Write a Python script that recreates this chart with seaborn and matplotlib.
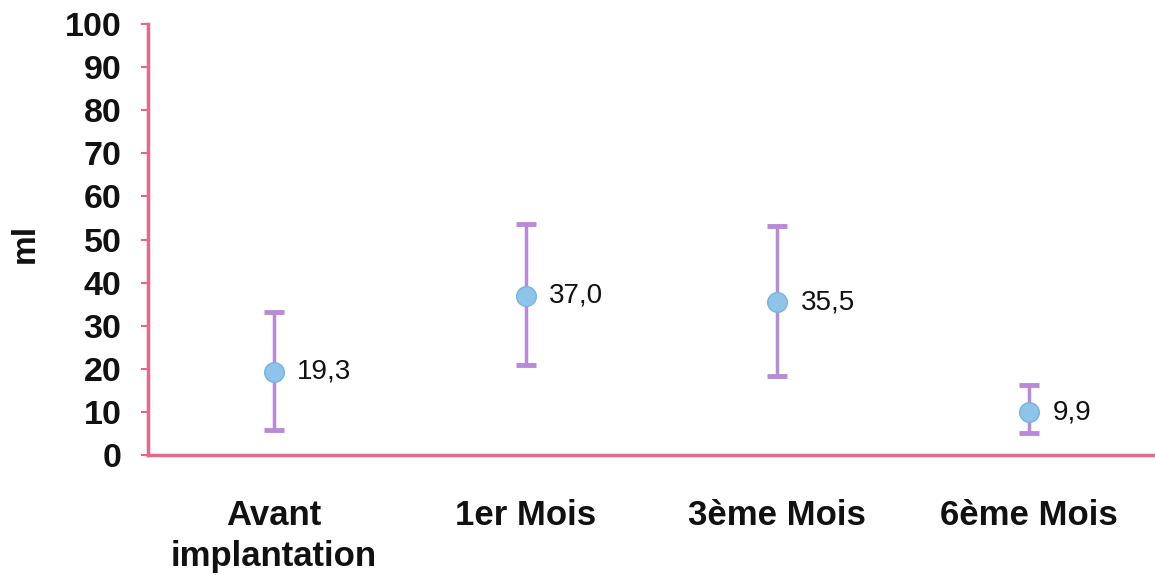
import matplotlib
matplotlib.use("Agg")
import matplotlib.pyplot as plt
import seaborn as sns
import numpy as np
import pandas as pd

categories = ["Avant\nimplantation", "1er Mois", "3ème Mois", "6ème Mois"]
means = [19.3, 37.0, 35.5, 9.9]
lower = [5.7, 20.8, 18.3, 5.0]
upper = [33.3, 53.6, 53.2, 16.3]
value_labels = ["19,3", "37,0", "35,5", "9,9"]
y_ticks = [0, 10, 20, 30, 40, 50, 60, 70, 80, 90, 100]

sns.set_theme(style="white")
plt.rcParams['font.family'] = ['Liberation Sans', 'DejaVu Sans']

axis_color = "#e06a8a"
bar_color = "#b88ad8"
marker_color = "#8ec3ea"

df = pd.DataFrame({"cat": categories, "mean": means, "lo": lower, "hi": upper})
pos = np.arange(len(categories))

fig = plt.figure(figsize=(11.55, 5.75), dpi=100)
ax = fig.add_axes([0.128, 0.2087, 0.872, 0.7493])

err = np.array([df["mean"] - df["lo"], df["hi"] - df["mean"]])
ax.errorbar(pos, df["mean"], yerr=err, fmt="none", ecolor=bar_color,
            elinewidth=2.5, capsize=7, capthick=3.5, zorder=2)
sns.scatterplot(x=pos, y=df["mean"], ax=ax, color=marker_color, s=200,
                edgecolor="#7ab3df", linewidth=1, zorder=3, legend=False)

for p, m, lab in zip(pos, means, value_labels):
    ax.annotate(lab, (p, m), xytext=(17, 0), textcoords="offset points",
                ha="left", va="center", fontsize=20, color="#111111")

ax.set_xlim(-0.5, 3.5)
ax.set_ylim(0, 100)
ax.set_yticks(y_ticks)
ax.set_yticklabels([str(t) for t in y_ticks], fontsize=24.5, fontweight="bold", color="#111111")
ax.set_xticks(pos)
ax.set_xticklabels(categories, fontsize=25, fontweight="bold", color="#111111", linespacing=1.3)
ax.set_ylabel("ml", fontsize=24, fontweight="bold", color="#111111")
ax.yaxis.set_label_coords(-0.106, 0.49)
ax.set_xlabel("")

for s in ["top", "right"]:
    ax.spines[s].set_visible(False)
for s in ["left", "bottom"]:
    ax.spines[s].set_color(axis_color)
    ax.spines[s].set_linewidth(2.5)

ax.tick_params(axis="y", which="major", direction="out", length=5, width=1.5,
               color=axis_color, pad=14, left=True)
ax.tick_params(axis="x", which="major", length=0, pad=32)

fig.savefig("out.png", dpi=100, facecolor="white")
